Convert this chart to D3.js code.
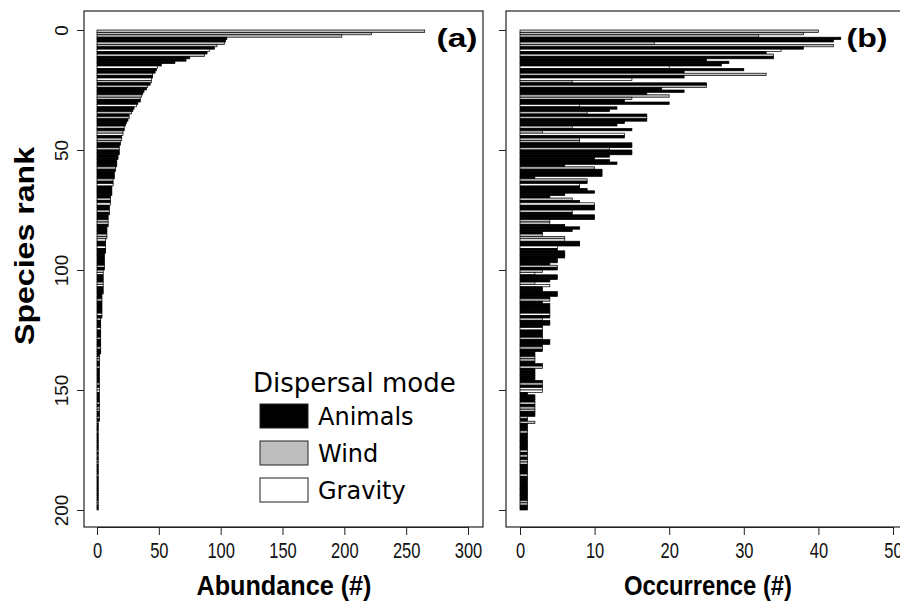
<!DOCTYPE html>
<html>
<head>
<meta charset="utf-8">
<script src="https://cdn.jsdelivr.net/npm/d3@7"></script>
<style>
  body { margin: 0; background: #fff; }
  svg { display: block; }
</style>
</head>
<body>
<div id="chart"></div>
<script>
// abundance per species, ranked (rank 1 = most abundant)
const abundance = [
  265, 222, 198, 105, 104, 103, 97, 95, 91, 89,
  87, 75, 72, 63, 52, 49, 48, 47, 45, 45,
  44, 44, 43, 41, 40, 38, 37, 36, 35, 35,
  33, 32, 30, 29, 28, 26, 26, 25, 24, 23,
  22, 22, 21, 21, 20, 20, 19, 19, 18, 18,
  18, 18, 17, 17, 16, 16, 16, 15, 15, 14,
  14, 14, 13, 13, 13, 12, 12, 12, 12, 11,
  11, 11, 11, 10, 10, 10, 10, 9, 9, 9,
  9, 9, 8, 8, 8, 8, 8, 7, 7, 7,
  7, 7, 7, 6, 6, 6, 6, 6, 6, 6,
  5, 5, 5, 5, 5, 5, 5, 5, 5, 5,
  4, 4, 4, 4, 4, 4, 4, 4, 4, 4,
  3, 3, 3, 3, 3, 3, 3, 3, 3, 3,
  3, 3, 3, 3, 3, 2, 2, 2, 2, 2,
  2, 2, 2, 2, 2, 2, 2, 2, 2, 2,
  2, 2, 2, 2, 2, 2, 2, 2, 2, 2,
  2, 2, 2, 1, 1, 1, 1, 1, 1, 1,
  1, 1, 1, 1, 1, 1, 1, 1, 1, 1,
  1, 1, 1, 1, 1, 1, 1, 1, 1, 1,
  1, 1, 1, 1, 1, 1, 1, 1, 1, 1,
];

// number of plots where each species occurs (same species order)
const occurrence = [
  40, 38, 32, 43, 42, 18, 42, 38, 35, 33,
  34, 34, 25, 28, 27, 20, 30, 22, 33, 22,
  15, 7, 25, 25, 19, 22, 17, 20, 15, 14,
  20, 8, 13, 12, 9, 17, 17, 17, 14, 13,
  7, 15, 3, 14, 14, 8, 8, 15, 15, 12,
  15, 15, 12, 10, 12, 13, 6, 10, 11, 11,
  11, 2, 9, 9, 8, 8, 9, 10, 6, 4,
  7, 8, 10, 10, 10, 7, 7, 10, 10, 4,
  4, 6, 8, 7, 3, 3, 6, 6, 8, 8,
  5, 5, 6, 6, 6, 5, 5, 4, 5, 5,
  3, 2, 5, 5, 4, 2, 4, 3, 3, 5,
  5, 4, 4, 3, 4, 4, 4, 4, 4, 4,
  3, 4, 4, 3, 3, 3, 3, 3, 3, 4,
  4, 3, 3, 3, 2, 2, 2, 2, 2, 3,
  3, 2, 2, 2, 2, 2, 3, 3, 3, 3,
  3, 1, 2, 2, 2, 2, 2, 2, 2, 2,
  2, 1, 1, 2, 1, 1, 1, 1, 1, 1,
  1, 1, 1, 1, 1, 1, 1, 1, 1, 1,
  1, 1, 1, 1, 1, 1, 1, 1, 1, 1,
  1, 1, 1, 1, 1, 1, 1, 1, 1, 1,
];

// dispersal mode: A = animals, W = wind, G = gravity
const mode = [
  'W', 'W', 'W', 'A', 'A', 'W', 'W', 'A', 'G', 'A',
  'W', 'A', 'A', 'A', 'A', 'G', 'A', 'A', 'W', 'A',
  'G', 'W', 'A', 'W', 'A', 'A', 'A', 'W', 'W', 'A',
  'A', 'G', 'A', 'A', 'W', 'A', 'W', 'A', 'A', 'A',
  'W', 'A', 'W', 'G', 'A', 'W', 'W', 'A', 'A', 'W',
  'A', 'A', 'A', 'A', 'A', 'A', 'A', 'W', 'A', 'A',
  'A', 'A', 'W', 'A', 'G', 'A', 'A', 'A', 'A', 'A',
  'W', 'A', 'G', 'A', 'A', 'W', 'A', 'A', 'A', 'W',
  'W', 'A', 'A', 'A', 'A', 'W', 'W', 'G', 'A', 'A',
  'G', 'A', 'A', 'A', 'A', 'A', 'A', 'A', 'W', 'A',
  'W', 'G', 'A', 'A', 'A', 'W', 'G', 'A', 'A', 'A',
  'A', 'A', 'W', 'A', 'A', 'A', 'A', 'A', 'G', 'A',
  'W', 'A', 'A', 'A', 'G', 'A', 'A', 'A', 'W', 'A',
  'A', 'A', 'W', 'A', 'A', 'A', 'W', 'W', 'A', 'A',
  'W', 'A', 'A', 'A', 'A', 'A', 'A', 'W', 'A', 'G',
  'G', 'A', 'A', 'A', 'A', 'W', 'A', 'W', 'W', 'A',
  'A', 'W', 'A', 'W', 'A', 'A', 'A', 'W', 'A', 'A',
  'A', 'A', 'A', 'A', 'A', 'W', 'A', 'W', 'A', 'W',
  'W', 'A', 'A', 'A', 'A', 'W', 'A', 'A', 'A', 'A',
  'A', 'A', 'A', 'A', 'A', 'A', 'W', 'W', 'A', 'A',
];

const modeKeys = ['A', 'W', 'G'];
const modeNames = ['Animals', 'Wind', 'Gravity'];
const modeFills = ['#000000', '#bebebe', '#ffffff'];

const rankTicks = [0, 50, 100, 150, 200];
const abundanceTicks = [0, 50, 100, 150, 200, 250, 300];
const occurrenceTicks = [0, 10, 20, 30, 40, 50];

const species = abundance.map((a, i) => ({
  rank: i + 1,
  abundance: a,
  occurrence: occurrence[i],
  mode: mode[i],
}));

const size = { width: 900, height: 603 };
const fill = d3.scaleOrdinal().domain(modeKeys).range(modeFills);

const svg = d3
  .select('#chart')
  .append('svg')
  .attr('width', size.width)
  .attr('height', size.height)
  .style('font-family', 'Liberation Sans, Arial, sans-serif');

const y = d3.scaleLinear().domain([0, 200]).range([30, 510]);

const drawPanel = (opts) => {
  const { box, x, accessor, ticks, title, tag, yLabels } = opts;
  const g = svg.append('g');

  g.selectAll('rect.bar')
    .data(species)
    .join('rect')
    .attr('class', 'bar')
    .attr('x', x(0))
    .attr('y', (d) => y(d.rank - 1))
    .attr('width', (d) => x(accessor(d)) - x(0))
    .attr('height', (d) => y(d.rank) - y(d.rank - 1))
    .attr('fill', (d) => fill(d.mode))
    .attr('stroke', '#000')
    .attr('stroke-width', 0.7);

  // frame
  g.append('rect')
    .attr('x', box.left)
    .attr('y', box.top)
    .attr('width', box.right - box.left)
    .attr('height', box.bottom - box.top)
    .attr('fill', 'none')
    .attr('stroke', '#222')
    .attr('stroke-width', 1.2);

  const xAxis = g
    .append('g')
    .attr('transform', `translate(0, ${box.bottom})`)
    .call(d3.axisBottom(x).tickValues(ticks).tickSizeInner(8).tickSizeOuter(0).tickPadding(7));
  xAxis.select('.domain').attr('stroke', '#222').attr('stroke-width', 1);
  xAxis.selectAll('.tick line').attr('stroke', '#222');
  // condensed, tall digits like the original
  xAxis
    .selectAll('.tick text')
    .attr('fill', '#111')
    .attr('transform', 'scale(0.75, 1)')
    .style('font-size', '22px');

  const yAxis = g
    .append('g')
    .attr('transform', `translate(${box.left}, 0)`)
    .call(d3.axisLeft(y).tickValues(rankTicks).tickSizeInner(7).tickSizeOuter(0));
  yAxis.select('.domain').remove();
  yAxis.selectAll('.tick line').attr('stroke', '#222');
  if (yLabels) {
    yAxis
      .selectAll('.tick text')
      .attr('x', 0)
      .attr('y', 0)
      .attr('dy', null)
      .attr('text-anchor', 'middle')
      .attr('transform', 'translate(-16, 0) rotate(-90)')
      .attr('fill', '#111')
      .style('font-size', '19px');
  } else {
    yAxis.selectAll('.tick text').remove();
  }

  g.append('text')
    .attr('x', title.x)
    .attr('y', 595)
    .attr('text-anchor', 'middle')
    .attr('textLength', title.len)
    .attr('lengthAdjust', 'spacingAndGlyphs')
    .style('font-size', '27px')
    .style('font-weight', 'bold')
    .text(title.text);

  g.append('text')
    .attr('x', tag.x)
    .attr('y', 47)
    .attr('text-anchor', 'middle')
    .attr('textLength', 41)
    .attr('lengthAdjust', 'spacingAndGlyphs')
    .style('font-size', '26px')
    .style('font-weight', 'bold')
    .text(tag.text);
};

drawPanel({
  box: { left: 84, right: 483, top: 11, bottom: 527 },
  x: d3.scaleLinear().domain([0, 300]).range([97, 468]),
  accessor: (d) => d.abundance,
  ticks: abundanceTicks,
  title: { x: 284, len: 175, text: 'Abundance (#)' },
  tag: { x: 457, text: '(a)' },
  yLabels: true,
});

drawPanel({
  box: { left: 506, right: 910, top: 11, bottom: 527 },
  x: d3.scaleLinear().domain([0, 50]).range([520, 893]),
  accessor: (d) => d.occurrence,
  ticks: occurrenceTicks,
  title: { x: 708, len: 168, text: 'Occurrence (#)' },
  tag: { x: 867, text: '(b)' },
  yLabels: false,
});

// y axis title
svg
  .append('text')
  .attr('transform', 'translate(34, 246) rotate(-90)')
  .attr('text-anchor', 'middle')
  .attr('textLength', 198)
  .attr('lengthAdjust', 'spacingAndGlyphs')
  .style('font-size', '27px')
  .style('font-weight', 'bold')
  .text('Species rank');

// legend
const legend = svg.append('g').attr('transform', 'translate(253, 0)');
legend
  .append('text')
  .attr('x', 0)
  .attr('y', 392)
  .style('font-size', '26px')
  .style('font-family', 'DejaVu Sans, sans-serif')
  .text('Dispersal mode');

const items = legend
  .selectAll('g.item')
  .data(modeKeys)
  .join('g')
  .attr('class', 'item')
  .attr('transform', (d, i) => `translate(0, ${404 + i * 37})`);

items
  .append('rect')
  .attr('x', 7)
  .attr('y', 0)
  .attr('width', 48)
  .attr('height', 24)
  .attr('fill', (d) => fill(d))
  .attr('stroke', '#222')
  .attr('stroke-width', 1);

items
  .append('text')
  .attr('x', 65)
  .attr('y', 21)
  .style('font-size', '24px')
  .style('font-family', 'DejaVu Sans, sans-serif')
  .text((d, i) => modeNames[i]);
</script>
</body>
</html>
